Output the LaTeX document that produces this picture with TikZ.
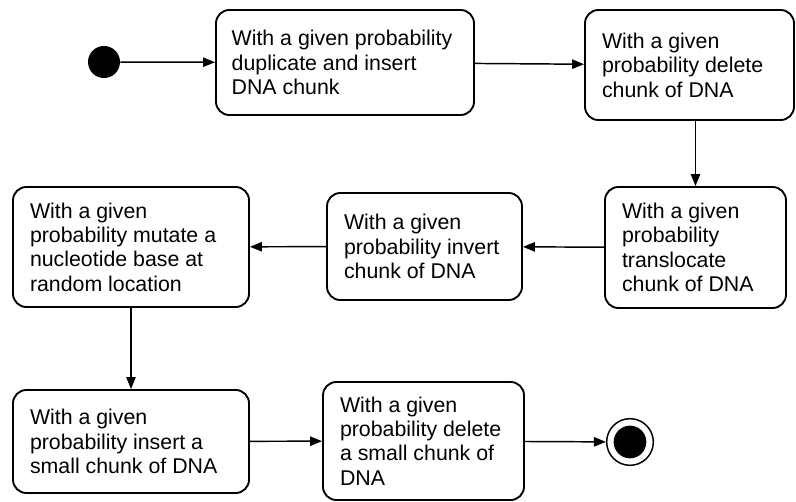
\documentclass[tikz,border=0pt]{standalone}
\usepackage{fontspec}
\setmainfont{Liberation Sans}
\usetikzlibrary{arrows.meta}
\tikzset{
  statebox/.style={draw, line width=1.4pt, rounded corners=10pt, align=flush left,
    inner sep=0pt, font=\fontsize{16}{18.3}\selectfont},
  flow/.style={line width=1.1pt, -{Triangle[length=9pt,width=7pt]}},
  initial/.style={circle, fill=black, minimum size=24pt, inner sep=0pt},
  final/.style={circle, draw, line width=1.1pt, fill=white, minimum size=35pt, inner sep=0pt},
  finaldot/.style={circle, fill=black, minimum size=24.5pt, inner sep=0pt}
}
\begin{document}
\begin{tikzpicture}[x=0.75pt, y=-0.75pt]
  \useasboundingbox (0,0) rectangle (796,502);

  % initial and final states
  \node[initial] (start) at (104,62) {};
  \node[final] (stop) at (630,442) {};
  \node[finaldot] at (stop) {};

  % activity boxes (text width = box width minus a 17px left and right inset)
  \node[statebox, minimum width=193.5pt, minimum height=78.75pt, text width=170pt]
    (b1) at (345,62.5) {With a given probability\\duplicate and insert\\DNA chunk};
  \node[statebox, minimum width=156.75pt, minimum height=82.5pt, text width=131.25pt]
    (b2) at (689.5,65) {With a given\\probability delete\\chunk of DNA};
  \node[statebox, minimum width=135.75pt, minimum height=90.75pt, text width=110.25pt]
    (b3) at (695.5,247.5) {With a given\\probability\\translocate\\chunk of DNA};
  \node[statebox, minimum width=146.25pt, minimum height=80.25pt, text width=120.75pt]
    (b4) at (424.5,246.5) {With a given\\probability invert\\chunk of DNA};
  \node[statebox, minimum width=177pt, minimum height=90pt, text width=151.5pt]
    (b5) at (131,247) {With a given\\probability mutate a\\nucleotide base at\\random location};
  \node[statebox, minimum width=177pt, minimum height=77.25pt, text width=151.5pt]
    (b6) at (131,441.5) {With a given\\probability insert a\\small chunk of DNA};
  \node[statebox, minimum width=150.75pt, minimum height=88.5pt, text width=125.25pt]
    (b7) at (423.5,441) {With a given\\probability delete\\a small chunk of\\DNA};

  % transitions
  \draw[flow] (start) -- (b1);
  \draw[flow] (b1) -- (b2);
  \draw[flow] (b2.south -| b3.north) -- (b3.north);
  \draw[flow] (b3) -- (b4);
  \draw[flow] (b4) -- (b5);
  \draw[flow] (b5) -- (b6);
  \draw[flow] (b6) -- (b7);
  \draw[flow] (b7) -- (stop);
\end{tikzpicture}
\end{document}
